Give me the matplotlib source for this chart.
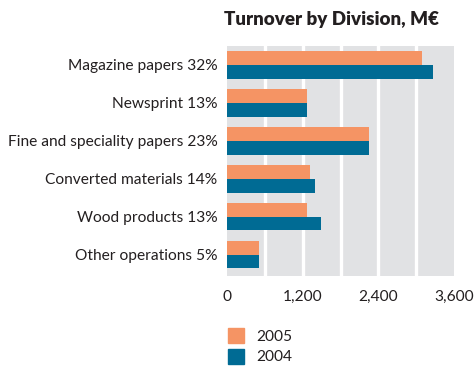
import matplotlib
matplotlib.use("Agg")
import matplotlib.pyplot as plt
from matplotlib.patches import Patch
import numpy as np

categories = ["Magazine papers 32%", "Newsprint 13%", "Fine and speciality papers 23%",
              "Converted materials 14%", "Wood products 13%", "Other operations 5%"]
values_2005 = [3090, 1270, 2245, 1315, 1270, 510]
values_2004 = [3260, 1270, 2245, 1395, 1490, 510]
xticks = [0, 1200, 2400, 3600]
xtick_labels = ["0", "1,200", "2,400", "3,600"]

c2005 = "#F59464"
c2004 = "#006B94"
bg = "#E1E2E4"
txt = "#231F20"

plt.rcParams['font.family'] = ['Lato', 'DejaVu Sans']

fig = plt.figure(figsize=(4.75, 3.69), dpi=100)
ax = fig.add_axes([227/475, 1 - 276/369, (454-227)/475, (276-46)/369])
ax.set_facecolor(bg)

y = np.arange(len(categories))
h = 0.36
ax.barh(y - h/2, values_2005, height=h, color=c2005, zorder=3)
ax.barh(y + h/2, values_2004, height=h, color=c2004, zorder=3)

ax.set_xlim(0, 3600)
ax.set_ylim(5.56, -0.5)
for gx in range(600, 3600, 600):
    ax.axvline(gx, color="white", lw=2.4, zorder=2)

ax.set_yticks(y)
ax.set_yticklabels(categories, fontsize=11.2, color=txt)
ax.set_xticks(xticks)
ax.set_xticklabels(xtick_labels, fontsize=11.2, color=txt)
ax.tick_params(axis="both", length=0, pad=7)
ax.tick_params(axis="x", pad=10)
for s in ax.spines.values():
    s.set_visible(False)

fig.text(332/475, 1 - 19/369, "Turnover by Division, M€", ha="center", va="center",
         fontsize=13.5, fontweight="heavy", color=txt)

handles = [Patch(color=c2005, label="2005"), Patch(color=c2004, label="2004")]
leg = fig.legend(handles=handles, loc="upper left", bbox_to_anchor=(222/475, 1 - 322/369),
                 frameon=False, fontsize=11.2, handlelength=1.0, handleheight=1.1,
                 handletextpad=0.8, labelspacing=0.3, borderaxespad=0)
for t in leg.get_texts():
    t.set_color(txt)

fig.savefig("out.png", dpi=100)
